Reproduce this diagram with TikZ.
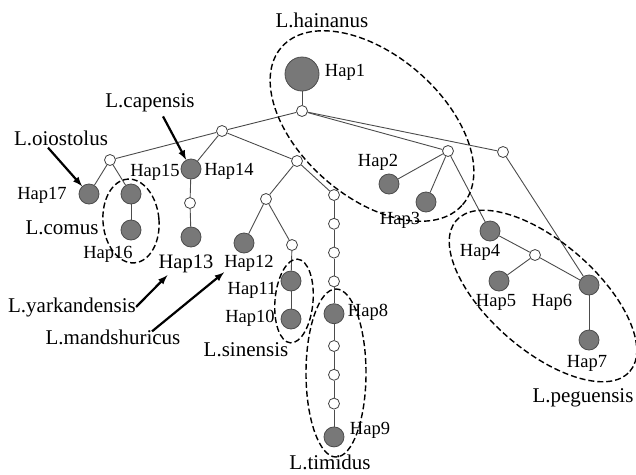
\documentclass[tikz,border=0pt]{standalone}
\usepackage{fontspec}
\setmainfont{Liberation Serif}
\usetikzlibrary{positioning}

\begin{document}
\begin{tikzpicture}[x=1pt,y=-1pt,
		grey/.style={circle,draw=black!70,fill=black!53,inner sep=0pt,minimum size=20pt,line width=0.8pt},
		big/.style={grey,minimum size=34pt},
		white/.style={circle,draw=black!75,fill=white,inner sep=0pt,minimum size=11pt,line width=0.8pt},
		hap/.style={inner sep=0pt,font=\fontsize{18.5}{20}\selectfont},
		species/.style={inner sep=0pt,font=\fontsize{21}{24}\selectfont},
		group/.style={draw,dash pattern=on 6pt off 3pt,line width=1.4pt},
		pointer/.style={-latex,line width=2.2pt}]
		\useasboundingbox (0,0) rectangle (636,474);

		\node[big]		at (302,74)		(h1)	{};
		\node[white]	at (302,111)	(j0)	{};
		\node[white]	at (222,131)	(jl)	{};
		\node[white]	at (448,151)	(jr)	{};
		\node[white]	at (503,152)	(jrr)	{};
		\node[white]	at (110,160)	(jll)	{};
		\node[white]	at (297,161)	(jm)	{};
		\node[grey]		at (191,169)	(h14)	{};
		\node[grey]		at (89,194)		(h17)	{};
		\node[grey]		at (131,194)	(h15)	{};
		\node[grey]		at (131,230)	(h16)	{};
		\node[white]	at (190,203)	(w13)	{};
		\node[grey]		at (191,237)	(h13)	{};
		\node[white]	at (266,199)	(jmm)	{};
		\node[grey]		at (244,243)	(h12)	{};
		\node[white]	at (292,245)	(w11)	{};
		\node[grey]		at (291,281)	(h11)	{};
		\node[grey]		at (291,319)	(h10)	{};
		\node[white]	at (334,195)	(t1)	{};
		\node[white,below=17pt of t1]	(t2)	{};
		\node[white,below=17pt of t2]	(t3)	{};
		\node[white,below=17pt of t3]	(t4)	{};
		\node[grey,below=16pt of t4]	(h8)	{};
		\node[white,below=16pt of h8]	(t5)	{};
		\node[white,below=17pt of t5]	(t6)	{};
		\node[white,below=17pt of t6]	(t7)	{};
		\node[grey,below=17pt of t7]	(h9)	{};
		\node[grey]		at (389,184)	(h2)	{};
		\node[grey]		at (426,202)	(h3)	{};
		\node[grey]		at (490,231)	(h4)	{};
		\node[white]	at (535,255)	(jp)	{};
		\node[grey]		at (499,281)	(h5)	{};
		\node[grey]		at (589,285)	(h6)	{};
		\node[grey]		at (589,340)	(h7)	{};

		\begin{scope}[draw=black!70,line width=0.9pt]
		\draw (h1) -- (j0);
		\draw (j0) -- (jl);
		\draw (j0) -- (jr);
		\draw (j0) -- (jrr);
		\draw (jl) -- (jll);
		\draw (jl) -- (h14);
		\draw (jl) -- (jm);
		\draw (jll) -- (h17);
		\draw (jll) -- (h15);
		\draw (h15) -- (h16);
		\draw (h14) -- (w13);
		\draw (w13) -- (h13);
		\draw (jm) -- (jmm);
		\draw (jm) -- (t1);
		\draw (jmm) -- (h12);
		\draw (jmm) -- (w11);
		\draw (w11) -- (h11);
		\draw (h11) -- (h10);
		\draw (t1) -- (t2);
		\draw (t2) -- (t3);
		\draw (t3) -- (t4);
		\draw (t4) -- (h8);
		\draw (h8) -- (t5);
		\draw (t5) -- (t6);
		\draw (t6) -- (t7);
		\draw (t7) -- (h9);
		\draw (jr) -- (h2);
		\draw (jr) -- (h3);
		\draw (jr) -- (h4);
		\draw (jrr) -- (h6);
		\draw (h4) -- (jp);
		\draw (jp) -- (h5);
		\draw (jp) -- (h6);
		\draw (h6) -- (h7);
		\end{scope}

		% haplotype labels
		\node[hap] at (345,72)	(l1)	{Hap1};
		\node[hap] at (378,162)	(l2)	{Hap2};
		\node[hap] at (400,220)	(l3)	{Hap3};
		\node[hap] at (480,252)	(l4)	{Hap4};
		\node[hap] at (496,302)	(l5)	{Hap5};
		\node[hap] at (552,302)	(l6)	{Hap6};
		\node[hap] at (587,363)	(l7)	{Hap7};
		\node[hap] at (368,312)	(l8)	{Hap8};
		\node[hap] at (370,430)	(l9)	{Hap9};
		\node[hap] at (250,318)	(l10)	{Hap10};
		\node[hap] at (252,290)	(l11)	{Hap11};
		\node[hap] at (249,263)	(l12)	{Hap12};
		\node[hap,font=\fontsize{20.5}{22}\selectfont] at (186,264)	(l13)	{Hap13};
		\node[hap] at (229,171)	(l14)	{Hap14};
		\node[hap] at (155,172)	(l15)	{Hap15};
		\node[hap] at (108,254)	(l16)	{Hap16};
		\node[hap] at (42,195)	(l17)	{Hap17};

		% species
		\node[species] at (322,20)	(hainanus)		{L.hainanus};
		\node[species] at (150,103)	(capensis)		{L.capensis};
		\node[species] at (61,138)	(oiostolus)		{L.oiostolus};
		\node[species] at (62,228)	(comus)			{L.comus};
		\node[species] at (72,307)	(yarkandensis)	{L.yarkandensis};
		\node[species] at (113,337)	(mandshuricus)	{L.mandshuricus};
		\node[species] at (246,350)	(sinensis)		{L.sinensis};
		\node[species] at (330,462)	(timidus)		{L.timidus};
		\node[species] at (583,398)	(peguensis)		{L.peguensis};

		\draw[group,rotate around={-41:(372,126)}] (372,126) ellipse (120pt and 71pt);
		\draw[group,rotate around={5:(131,221)}] (131,221) ellipse (28pt and 42pt);
		\draw[group,rotate around={-5:(294,301)}] (294,301) ellipse (19pt and 42pt);
		\draw[group] (336,373) ellipse (30pt and 84pt);
		\draw[group,rotate around={-41:(543,296)}] (543,296) ellipse (115pt and 54pt);

		\draw[pointer] ([xshift=13pt,yshift=-4pt]capensis.south) -- (h14);
		\draw[pointer] ([xshift=-13pt,yshift=-2pt]oiostolus.south) -- (h17);
		\draw[pointer] (yarkandensis.east) -- ([xshift=9pt,yshift=-2pt]l13.south west);
		\draw[pointer] ([xshift=39pt,yshift=-2pt]mandshuricus.north) -- ([yshift=-1pt]l12.south west);
	\end{tikzpicture}
\end{document}
